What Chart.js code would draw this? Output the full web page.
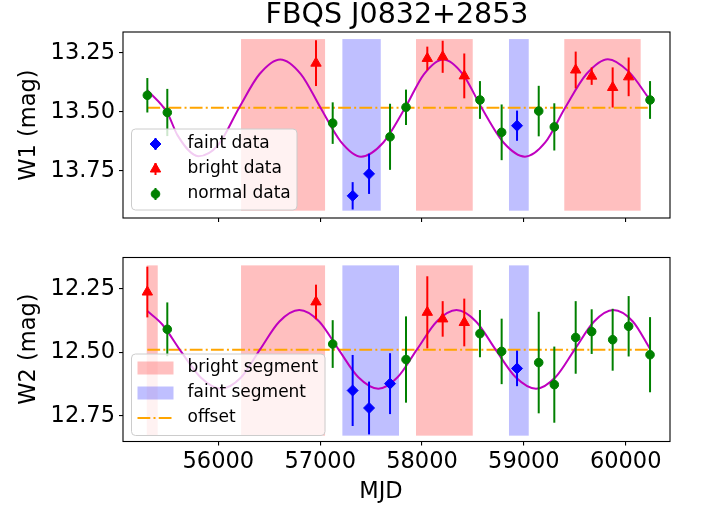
<!DOCTYPE html>
<html>
<head>
<meta charset="utf-8">
<script src="https://cdn.jsdelivr.net/npm/chart.js@4.4.0/dist/chart.umd.min.js"></script>
<style>
  html, body { margin: 0; padding: 0; background: #fff; }
  #wrap { position: relative; width: 704px; height: 505px; }
  canvas { position: absolute; left: 0; }
</style>
</head>
<body>
<div id="wrap">
  <canvas id="chartW1" width="704" height="240" style="top:0"></canvas>
  <canvas id="chartW2" width="704" height="265" style="top:240px"></canvas>
</div>
<script>
// ---- data ----
const mjdTicks = [56000, 57000, 58000, 59000, 60000];
const w1Ticks = [13.25, 13.50, 13.75];
const w2Ticks = [12.25, 12.50, 12.75];
const mjdRange = [55064, 60435];
const w1Range = [13.162, 13.95];
const w2Range = [12.126, 12.851];

// W1
const w1NormalMjd = [55303, 55499, 57123, 57686, 57843, 58569, 58782, 59146, 59299, 60239];
const w1NormalMag = [13.43, 13.503, 13.548, 13.606, 13.481, 13.45, 13.587, 13.497, 13.564, 13.45];
const w1NormalErr = [0.073, 0.10, 0.088, 0.14, 0.075, 0.08, 0.118, 0.107, 0.10, 0.08];
const w1BrightMjd = [56959, 58052, 58203, 58415, 59509, 59666, 59872, 60029];
const w1BrightMag = [13.294, 13.274, 13.267, 13.348, 13.323, 13.349, 13.397, 13.352];
const w1BrightErr = [0.097, 0.05, 0.068, 0.095, 0.078, 0.037, 0.085, 0.082];
const w1FaintMjd = [57319, 57480, 58933];
const w1FaintMag = [13.856, 13.763, 13.559];
const w1FaintErr = [0.058, 0.085, 0.064];

// W2
const w2NormalMjd = [55499, 57123, 57843, 58569, 58782, 59146, 59299, 59509, 59666, 59872, 60029, 60239];
const w2NormalMag = [12.409, 12.467, 12.528, 12.426, 12.496, 12.54, 12.627, 12.441, 12.418, 12.45, 12.397, 12.509];
const w2NormalErr = [0.106, 0.094, 0.17, 0.093, 0.129, 0.20, 0.15, 0.143, 0.088, 0.122, 0.119, 0.148];
const w2BrightMjd = [55303, 56959, 58052, 58203, 58415];
const w2BrightMag = [12.262, 12.301, 12.342, 12.368, 12.382];
const w2BrightErr = [0.10, 0.068, 0.142, 0.07, 0.094];
const w2FaintMjd = [57319, 57480, 57686, 58933];
const w2FaintMag = [12.65, 12.719, 12.623, 12.563];
const w2FaintErr = [0.14, 0.104, 0.12, 0.07];

// sinusoid model
const w1CurveMjd = [55303, 55500, 55600, 55804, 56000, 56203, 56405, 56608, 56810, 57005, 57200, 57401, 57620, 57833,
  58020, 58209, 58400, 58586, 58800, 59011, 59210, 59404, 59615, 59825, 60030, 60239];
const w1CurveMag = [13.408, 13.505, 13.60, 13.688, 13.64, 13.484, 13.34, 13.278, 13.34, 13.484, 13.625, 13.69, 13.63, 13.484,
  13.34, 13.278, 13.34, 13.484, 13.63, 13.69, 13.63, 13.484, 13.34, 13.277, 13.33, 13.45];
const w2CurveMjd = [55303, 55450, 55640, 55830, 56024, 56220, 56410, 56600, 56795, 56990, 57180, 57375, 57571, 57760,
  57951, 58145, 58338, 58530, 58721, 58920, 59120, 59310, 59500, 59690, 59878, 60070, 60239];
const w2CurveMag = [12.337, 12.39, 12.50, 12.60, 12.643, 12.60, 12.488, 12.378, 12.333, 12.378, 12.488, 12.598, 12.643, 12.598,
  12.488, 12.378, 12.333, 12.378, 12.488, 12.598, 12.643, 12.598, 12.488, 12.378, 12.333, 12.378, 12.486];

const offsetMjd = [55303, 60239];
const w1Offset = 13.483;
const w2Offset = 12.489;

const w1BrightSpans = [[56223, 57048], [57941, 58498], [59397, 60147]];
const w1FaintSpans = [[57218, 57595], [58854, 59048]];
const w2BrightSpans = [[55297, 55405], [56223, 57048], [57941, 58498]];
const w2FaintSpans = [[57218, 57774], [58854, 59048]];
const w1SpanMag = [13.192, 13.919];
const w2SpanMag = [12.157, 12.828];

// ---- drawing ----
const FONT = 'DejaVu Sans';
const BLUE = '#0000ff', RED = '#ff0000', GREEN = '#008000';
const PINK_FILL = 'rgba(255,0,0,0.25)', BLUE_FILL = 'rgba(0,0,255,0.25)';
const MAGENTA = '#bf00bf', ORANGE = '#ffa500';
const DASHDOT = [12.8, 3.2, 2, 3.2];

const pts = (xs, ys) => xs.map((x, i) => ({ x: x, y: ys[i] }));

function markerSet(label, xs, ys, errs, color, style, radius) {
  return {
    label: label, data: pts(xs, ys), errors: errs,
    pointStyle: style, pointRadius: radius, pointBorderWidth: 1,
    backgroundColor: color, borderColor: color, order: 1
  };
}

const spansPlugin = {
  id: 'spans',
  beforeDatasetsDraw(chart, args, opts) {
    const { ctx, scales: { x, y } } = chart;
    const y0 = y.getPixelForValue(opts.mag[0]), y1 = y.getPixelForValue(opts.mag[1]);
    ctx.save();
    opts.bright.forEach(s => {
      const x0 = x.getPixelForValue(s[0]), x1 = x.getPixelForValue(s[1]);
      ctx.fillStyle = PINK_FILL;
      ctx.fillRect(x0, y0, x1 - x0, y1 - y0);
    });
    opts.faint.forEach(s => {
      const x0 = x.getPixelForValue(s[0]), x1 = x.getPixelForValue(s[1]);
      ctx.fillStyle = BLUE_FILL;
      ctx.fillRect(x0, y0, x1 - x0, y1 - y0);
    });
    ctx.restore();
  }
};

const errbarPlugin = {
  id: 'errbars',
  beforeDatasetDraw(chart, args) {
    const ds = chart.data.datasets[args.index];
    if (!ds.errors) return;
    const { ctx, scales: { y } } = chart;
    ctx.save();
    ctx.strokeStyle = ds.borderColor;
    ctx.lineWidth = 2;
    args.meta.data.forEach((p, i) => {
      const v = ds.data[i].y, e = ds.errors[i];
      ctx.beginPath();
      ctx.moveTo(p.x, y.getPixelForValue(v - e));
      ctx.lineTo(p.x, y.getPixelForValue(v + e));
      ctx.stroke();
    });
    ctx.restore();
  }
};

function roundRect(ctx, x, y, w, h, r) {
  ctx.beginPath();
  ctx.moveTo(x + r, y);
  ctx.arcTo(x + w, y, x + w, y + h, r);
  ctx.arcTo(x + w, y + h, x, y + h, r);
  ctx.arcTo(x, y + h, x, y, r);
  ctx.arcTo(x, y, x + w, y, r);
  ctx.closePath();
}

const decorPlugin = {
  id: 'decor',
  afterDraw(chart, args, opts) {
    const { ctx, chartArea: a } = chart;
    ctx.save();
    // frame
    ctx.strokeStyle = '#000';
    ctx.lineWidth = 1.1;
    ctx.strokeRect(a.left, a.top, a.right - a.left, a.bottom - a.top);

    // legend
    const L = opts.legend;
    roundRect(ctx, L.x, L.y, L.w, L.h, 4);
    ctx.fillStyle = 'rgba(255,255,255,0.8)';
    ctx.fill();
    ctx.strokeStyle = '#cccccc';
    ctx.lineWidth = 1;
    ctx.stroke();
    ctx.font = '17px "' + FONT + '"';
    ctx.textBaseline = 'middle';
    L.items.forEach((it, i) => {
      const cy = L.y + L.first + i * L.step;
      const hx = L.x + 24;
      if (it.kind === 'err') {
        ctx.strokeStyle = it.color;
        ctx.lineWidth = 2;
        ctx.beginPath();
        ctx.moveTo(hx, cy - 6);
        ctx.lineTo(hx, cy + 6);
        ctx.stroke();
        ctx.fillStyle = it.color;
        ctx.strokeStyle = it.color;
        ctx.lineWidth = 1;
        Chart.helpers.drawPoint(ctx, { pointStyle: it.style, radius: it.radius, rotation: 0, borderWidth: 1 }, hx, cy);
      } else if (it.kind === 'patch') {
        ctx.fillStyle = it.color;
        ctx.fillRect(L.x + 6, cy - 6.5, 36, 13);
      } else {
        ctx.strokeStyle = it.color;
        ctx.lineWidth = 2;
        ctx.setLineDash(DASHDOT);
        ctx.beginPath();
        ctx.moveTo(L.x + 6, cy);
        ctx.lineTo(L.x + 42, cy);
        ctx.stroke();
        ctx.setLineDash([]);
      }
      ctx.fillStyle = '#000';
      ctx.textAlign = 'left';
      ctx.fillText(it.label, L.x + 56, cy);
    });

    // texts
    ctx.fillStyle = '#000';
    ctx.font = '22.5px "' + FONT + '"';
    ctx.save();
    ctx.translate(29, opts.yLabelY);
    ctx.rotate(-Math.PI / 2);
    ctx.textAlign = 'center';
    ctx.textBaseline = 'middle';
    ctx.fillText(opts.yLabel, 0, 0);
    ctx.restore();
    if (opts.title) {
      ctx.font = '28.5px "' + FONT + '"';
      ctx.textAlign = 'center';
      ctx.textBaseline = 'alphabetic';
      ctx.fillText(opts.title, 397, 23);
    }
    if (opts.xLabel) {
      ctx.font = '22.5px "' + FONT + '"';
      ctx.textAlign = 'center';
      ctx.textBaseline = 'alphabetic';
      ctx.fillText(opts.xLabel, 381, 258);
    }
    ctx.restore();
  }
};

function makeChart(id, p) {
  const datasets = [
    markerSet('faint data', p.faint[0], p.faint[1], p.faint[2], BLUE, 'rectRot', 5.5),
    markerSet('bright data', p.bright[0], p.bright[1], p.bright[2], RED, 'triangle', 6),
    markerSet('normal data', p.normal[0], p.normal[1], p.normal[2], GREEN, 'circle', 4.3),
    {
      label: 'model', data: pts(p.curve[0], p.curve[1]), showLine: true,
      cubicInterpolationMode: 'monotone', borderColor: MAGENTA, borderWidth: 2,
      pointRadius: 0, order: 5
    },
    {
      label: 'offset', data: pts(offsetMjd, offsetMjd.map(() => p.offset)), showLine: true,
      borderColor: ORANGE, borderWidth: 2, borderDash: DASHDOT, pointRadius: 0, order: 6
    }
  ];
  return new Chart(document.getElementById(id), {
    type: 'scatter',
    data: { datasets: datasets },
    plugins: [spansPlugin, errbarPlugin, decorPlugin],
    options: {
      responsive: false,
      animation: false,
      events: [],
      layout: { padding: { top: p.padTop, right: 34, left: 0, bottom: 0 } },
      scales: {
        x: {
          type: 'linear', min: mjdRange[0], max: mjdRange[1],
          afterBuildTicks: s => { s.ticks = mjdTicks.map(v => ({ value: v })); },
          afterFit: s => { s.height = p.xHeight; },
          grid: { drawOnChartArea: false, drawTicks: true, tickLength: 4, color: '#000', lineWidth: 1.1 },
          border: { display: false },
          ticks: {
            display: p.showX, color: '#000', padding: 3, maxRotation: 0,
            font: { family: FONT, size: 22.5 }, callback: v => String(v)
          }
        },
        y: {
          type: 'linear', reverse: true, min: p.range[0], max: p.range[1],
          afterBuildTicks: s => { s.ticks = p.ticks.map(v => ({ value: v })); },
          afterFit: s => { s.width = 123; },
          grid: { drawOnChartArea: false, drawTicks: true, tickLength: 4, color: '#000', lineWidth: 1.1 },
          border: { display: false },
          ticks: {
            color: '#000', padding: 4,
            font: { family: FONT, size: 22.5 }, callback: v => Number(v).toFixed(2)
          }
        }
      },
      plugins: {
        legend: { display: false },
        tooltip: { enabled: false },
        spans: { bright: p.brightSpans, faint: p.faintSpans, mag: p.spanMag },
        decor: p.decor
      }
    }
  });
}

makeChart('chartW1', {
  faint: [w1FaintMjd, w1FaintMag, w1FaintErr],
  bright: [w1BrightMjd, w1BrightMag, w1BrightErr],
  normal: [w1NormalMjd, w1NormalMag, w1NormalErr],
  curve: [w1CurveMjd, w1CurveMag],
  offset: w1Offset,
  brightSpans: w1BrightSpans, faintSpans: w1FaintSpans, spanMag: w1SpanMag,
  range: w1Range, ticks: w1Ticks,
  padTop: 32, xHeight: 22, showX: false,
  decor: {
    title: 'FBQS J0832+2853', yLabel: 'W1 (mag)', yLabelY: 125,
    legend: {
      x: 131.5, y: 129, w: 165.5, h: 81, first: 15, step: 25,
      items: [
        { kind: 'err', label: 'faint data', color: BLUE, style: 'rectRot', radius: 5.5 },
        { kind: 'err', label: 'bright data', color: RED, style: 'triangle', radius: 6 },
        { kind: 'err', label: 'normal data', color: GREEN, style: 'circle', radius: 4.3 }
      ]
    }
  }
});

makeChart('chartW2', {
  faint: [w2FaintMjd, w2FaintMag, w2FaintErr],
  bright: [w2BrightMjd, w2BrightMag, w2BrightErr],
  normal: [w2NormalMjd, w2NormalMag, w2NormalErr],
  curve: [w2CurveMjd, w2CurveMag],
  offset: w2Offset,
  brightSpans: w2BrightSpans, faintSpans: w2FaintSpans, spanMag: w2SpanMag,
  range: w2Range, ticks: w2Ticks,
  padTop: 16, xHeight: 63.5, showX: true,
  decor: {
    yLabel: 'W2 (mag)', yLabelY: 109, xLabel: 'MJD',
    legend: {
      x: 131.5, y: 114, w: 193.5, h: 81.5, first: 14, step: 25,
      items: [
        { kind: 'patch', label: 'bright segment', color: PINK_FILL },
        { kind: 'patch', label: 'faint segment', color: BLUE_FILL },
        { kind: 'line', label: 'offset', color: ORANGE }
      ]
    }
  }
});
</script>
</body>
</html>
